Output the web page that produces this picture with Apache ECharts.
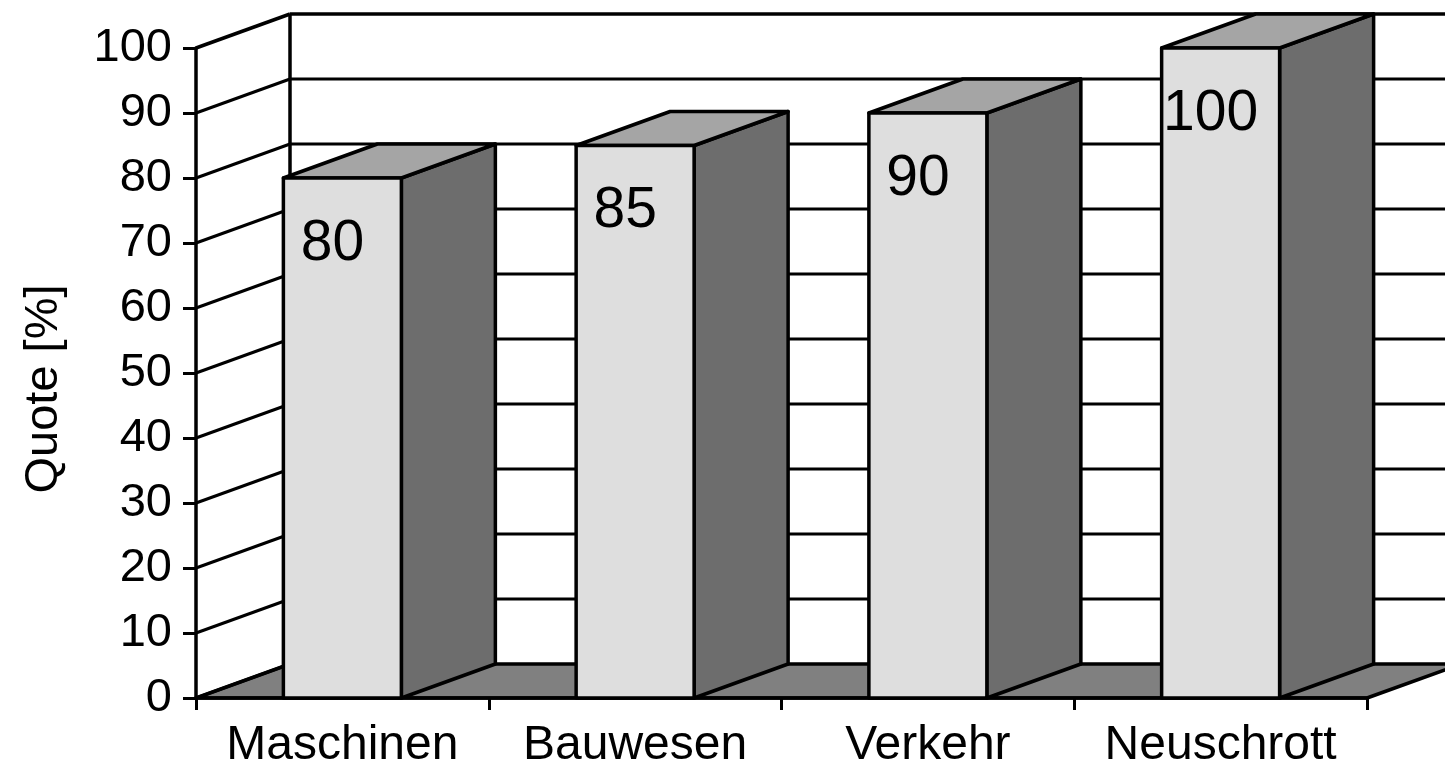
<!DOCTYPE html>
<html>
<head>
<meta charset="utf-8">
<title>Quote</title>
<script src="https://cdn.jsdelivr.net/npm/echarts@6/dist/echarts.min.js"></script>
<style>
  html, body { margin: 0; padding: 0; background: #ffffff; }
  #chart { width: 1445px; height: 765px; }
</style>
</head>
<body>
<div id="chart"></div>
<script>
// Categories and recycling rates (percent)
const categories = ['Maschinen', 'Bauwesen', 'Verkehr', 'Neuschrott'];
const quote = [80, 85, 90, 100];
// Values at which the wall grid lines are drawn
const gridValues = [0, 10, 20, 30, 40, 50, 60, 70, 80, 90, 100];

// Pseudo-3D depth offset of the walls and columns (pixels)
const DEPTH_X = 94;
const DEPTH_Y = 34;
const EDGE_W = 3.5;
const GRID_W = 3;
const FONT = '"Liberation Sans", Arial, sans-serif';

const chart = echarts.init(document.getElementById('chart'), null, { renderer: 'canvas' });

// Floor, left side wall and back wall with their grid lines
function renderWalls(params, api) {
  const cs = params.coordSys;
  const x0 = cs.x;
  const x1 = cs.x + cs.width;
  const yBase = api.coord([0, 0])[1];
  const children = [];

  // floor
  children.push({
    type: 'polygon',
    shape: { points: [[x0, yBase], [x0 + DEPTH_X, yBase - DEPTH_Y], [x1 + DEPTH_X, yBase - DEPTH_Y], [x1, yBase]] },
    style: { fill: '#808080', stroke: '#000', lineWidth: EDGE_W, lineJoin: 'round' }
  });

  gridValues.forEach(function (v) {
    const y = api.coord([0, v])[1];
    const lw = v === 100 ? EDGE_W : GRID_W;
    // side wall diagonal
    children.push({
      type: 'line',
      shape: { x1: x0, y1: y, x2: x0 + DEPTH_X, y2: y - DEPTH_Y },
      style: { stroke: '#000', lineWidth: lw }
    });
    // back wall horizontal
    if (v > 0) {
      children.push({
        type: 'line',
        shape: { x1: x0 + DEPTH_X, y1: y - DEPTH_Y, x2: x1 + DEPTH_X, y2: y - DEPTH_Y },
        style: { stroke: '#000', lineWidth: lw }
      });
    }
  });

  // back left corner edge
  const yTop = api.coord([0, 100])[1];
  children.push({
    type: 'line',
    shape: { x1: x0 + DEPTH_X, y1: yTop - DEPTH_Y, x2: x0 + DEPTH_X, y2: yBase - DEPTH_Y },
    style: { stroke: '#000', lineWidth: EDGE_W }
  });

  return { type: 'group', children: children };
}

// One 3D column: front face, top face, right side face and value label
function renderColumn(params, api) {
  const idx = api.value(0);
  const val = api.value(1);
  const top = api.coord([idx, val]);
  const base = api.coord([idx, 0]);
  const band = api.size([1, 0])[0];
  const w = band * 0.403;
  const l = top[0] - w / 2;
  const r = top[0] + w / 2;
  const yt = top[1];
  const yb = base[1];
  const edge = { stroke: '#000', lineWidth: EDGE_W, lineJoin: 'round' };

  return {
    type: 'group',
    children: [
      {
        type: 'polygon',
        shape: { points: [[r, yt], [r + DEPTH_X, yt - DEPTH_Y], [r + DEPTH_X, yb - DEPTH_Y], [r, yb]] },
        style: Object.assign({ fill: '#6d6d6d' }, edge)
      },
      {
        type: 'polygon',
        shape: { points: [[l, yt], [l + DEPTH_X, yt - DEPTH_Y], [r + DEPTH_X, yt - DEPTH_Y], [r, yt]] },
        style: Object.assign({ fill: '#a5a5a5' }, edge)
      },
      {
        type: 'rect',
        shape: { x: l, y: yt, width: w, height: yb - yt },
        style: Object.assign({ fill: '#dedede' }, edge)
      },
      {
        type: 'text',
        x: top[0] - 10,
        y: yt + 66,
        style: {
          text: String(val),
          fill: '#000',
          font: '57px ' + FONT,
          align: 'center',
          verticalAlign: 'middle'
        }
      }
    ]
  };
}

const option = {
  backgroundColor: '#ffffff',
  animation: false,
  grid: { left: 196, right: 78, top: 48, bottom: 67, containLabel: false, outerBoundsMode: 'none' },
  xAxis: {
    type: 'category',
    data: categories,
    boundaryGap: true,
    axisLine: { show: true, lineStyle: { color: '#000', width: EDGE_W } },
    axisTick: { show: true, length: 12, lineStyle: { color: '#000', width: GRID_W } },
    axisLabel: { color: '#000', fontSize: 48, fontFamily: FONT, margin: 24, interval: 0 },
    splitLine: { show: false },
    z: 1
  },
  yAxis: {
    type: 'value',
    min: 0,
    max: 100,
    interval: 10,
    name: 'Quote [%]',
    nameLocation: 'middle',
    nameRotate: 90,
    nameGap: 128,
    nameTextStyle: { color: '#000', fontSize: 47, fontFamily: FONT, padding: [0, 32, 0, 0] },
    axisLine: { show: true, lineStyle: { color: '#000', width: EDGE_W } },
    axisTick: { show: true, length: 13, lineStyle: { color: '#000', width: GRID_W } },
    axisLabel: { color: '#000', fontSize: 47, fontFamily: FONT, margin: 24 },
    splitLine: { show: false }
  },
  series: [
    {
      type: 'custom',
      name: 'walls',
      renderItem: renderWalls,
      data: [[0, 0]],
      clip: false,
      silent: true,
      z: 1
    },
    {
      type: 'custom',
      name: 'Quote',
      renderItem: renderColumn,
      data: quote.map(function (v, i) { return [i, v]; }),
      encode: { x: 0, y: 1 },
      clip: false,
      z: 3
    }
  ]
};

chart.setOption(option);
</script>
</body>
</html>
